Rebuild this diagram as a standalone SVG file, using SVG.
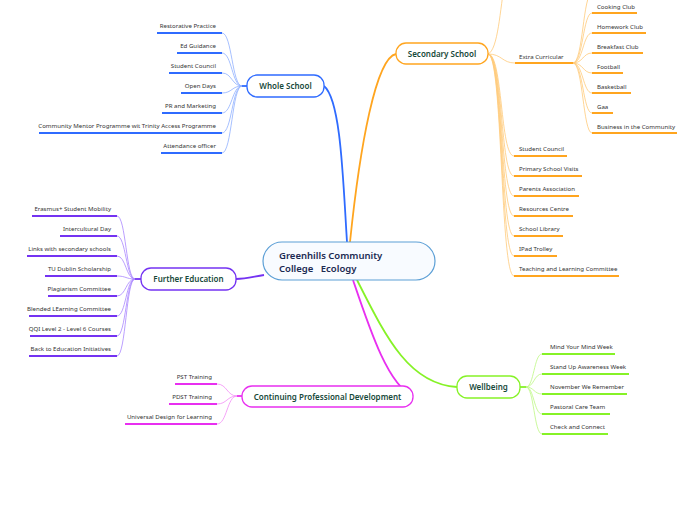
<svg xmlns="http://www.w3.org/2000/svg" width="696" height="520" viewBox="0 0 696 520">
<style>
text{font-family:"Noto Sans","Open Sans","Liberation Sans",sans-serif}
.leaf{font-size:6.1px;fill:#333}
.l{text-anchor:end}
.lbl{font-size:8px;font-weight:600;fill:#17493a;text-anchor:middle}
.ctr{font-size:9.5px;font-weight:600;fill:#1b2a52}
.c{fill:none;stroke-width:0.8}
.u{fill:none;stroke-width:2}
.m{fill:none;stroke-width:1.8}
.node{fill:#fff;stroke-width:1.3}
.blue .c{stroke:#8fb0ff}.blue .u,.blue .m{stroke:#2f6bff}
.orange .c{stroke:#ffca7a}.orange .u,.orange .m{stroke:#ffa51f}
.purple .c{stroke:#a987ff}.purple .u,.purple .m{stroke:#7433f2}
.magenta .c{stroke:#f28df6}.magenta .u,.magenta .m{stroke:#e82ff0}
.green .c{stroke:#bdf783}.green .u,.green .m{stroke:#86f227}
</style>

<g id="connectors">
  <g class="blue">
    <path class="m" d="M347,242 C343,180 341,100 324,86"/>
    <path class="m" d="M242,86 L247,86"/>
    <path class="c" d="M242,86 C232,86 232,33 222,33"/>
    <path class="c" d="M242,86 C232,86 232,53 222,53"/>
    <path class="c" d="M242,86 C232,86 232,73 222,73"/>
    <path class="c" d="M242,86 C232,86 232,93 222,93"/>
    <path class="c" d="M242,86 C232,86 232,113 222,113"/>
    <path class="c" d="M242,86 C232,86 232,133 222,133"/>
    <path class="c" d="M242,86 C232,86 232,153 222,153"/>
  </g>
  <g class="orange">
    <path class="m" d="M350,242 C360,145 376,58 396,54"/>
    <path class="c" d="M488,54 C498,50 500,10 505,-20"/>
    <path class="c" d="M488,54 C502,54 502,63 515,63"/>
    <path class="c" d="M573,63 C583,63 583,-7 592,-7"/>
    <path class="c" d="M573,63 C583,63 583,13 592,13"/>
    <path class="c" d="M573,63 C583,63 583,33 592,33"/>
    <path class="c" d="M573,63 C583,63 583,53 592,53"/>
    <path class="c" d="M573,63 C583,63 583,73 592,73"/>
    <path class="c" d="M573,63 C583,63 583,93 592,93"/>
    <path class="c" d="M573,63 C583,63 583,113 592,113"/>
    <path class="c" d="M573,63 C583,63 583,133 592,133"/>
    <path class="c" d="M488,54 C503,54 500,156 514,156"/>
    <path class="c" d="M488,54 C503,54 500,176 514,176"/>
    <path class="c" d="M488,54 C503,54 500,196 514,196"/>
    <path class="c" d="M488,54 C503,54 500,216 514,216"/>
    <path class="c" d="M488,54 C503,54 500,236 514,236"/>
    <path class="c" d="M488,54 C503,54 500,256 514,256"/>
    <path class="c" d="M488,54 C503,54 500,276 514,276"/>
  </g>
  <g class="purple">
    <path class="m" d="M264,275 C252,277 246,279 236,279"/>
    <path class="m" d="M135,279 L141,279"/>
    <path class="c" d="M135,279 C126,279 126,216 117,216"/>
    <path class="c" d="M135,279 C126,279 126,236 117,236"/>
    <path class="c" d="M135,279 C126,279 126,256 117,256"/>
    <path class="c" d="M135,279 C126,279 126,276 117,276"/>
    <path class="c" d="M135,279 C126,279 126,296 117,296"/>
    <path class="c" d="M135,279 C126,279 126,316 117,316"/>
    <path class="c" d="M135,279 C126,279 126,336 117,336"/>
    <path class="c" d="M135,279 C126,279 126,356 117,356"/>
  </g>
  <g class="magenta">
    <path class="m" d="M353,280 C370,330 388,385 413,396"/>
    <path class="m" d="M237,396 L242,396"/>
    <path class="c" d="M237,396 C227,396 227,384 217,384"/>
    <path class="c" d="M237,396 C227,396 227,404 217,404"/>
    <path class="c" d="M237,396 C227,396 227,424 217,424"/>
  </g>
  <g class="green">
    <path class="m" d="M357,280 C385,335 408,384 457,387"/>
    <path class="m" d="M520,387 L526,387"/>
    <path class="c" d="M526,387 C534,387 534,354 542,354"/>
    <path class="c" d="M526,387 C534,387 534,374 542,374"/>
    <path class="c" d="M526,387 C534,387 534,394 542,394"/>
    <path class="c" d="M526,387 C534,387 534,414 542,414"/>
    <path class="c" d="M526,387 C534,387 534,434 542,434"/>
  </g>
</g>

<g id="central">
  <rect x="263" y="242" width="172" height="38" rx="19" fill="#f8fbff" stroke="#5c9fd6" stroke-width="1.2"/>
  <text class="ctr" x="279" y="258.5">Greenhills Community</text>
  <text class="ctr" x="279" y="271.5" xml:space="preserve" style="white-space:pre">College   Ecology</text>
</g>

<g id="whole-school" class="blue">
  <rect class="node" x="247" y="75" width="77" height="22" rx="10" stroke="#2f6bff"/>
  <text class="lbl" x="285.5" y="89">Whole School</text>
</g>
<g id="ws-leaves" class="blue">
  <path class="u" d="M157,33H222M177,53H222M169,73H222M181,93H222M162,113H222M39,133H222M161,153H222"/>
  <text class="leaf l" x="216" y="27.5">Restorative Practice</text>
  <text class="leaf l" x="216" y="47.5">Ed Guidance</text>
  <text class="leaf l" x="216" y="67.5">Student Council</text>
  <text class="leaf l" x="216" y="87.5">Open Days</text>
  <text class="leaf l" x="216" y="107.5">PR and Marketing</text>
  <text class="leaf l" x="216" y="127.5">Community Mentor Programme wit Trinity Access Programme</text>
  <text class="leaf l" x="216" y="147.5">Attendance officer</text>
</g>

<g id="secondary-school" class="orange">
  <rect class="node" x="396" y="43" width="92" height="21" rx="10" stroke="#ffa51f"/>
  <text class="lbl" x="442" y="57">Secondary School</text>
</g>
<g id="extra-curricular" class="orange">
  <path class="u" d="M515,63H573"/>
  <text class="leaf" x="519" y="58.5">Extra Curricular</text>
</g>
<g id="ec-leaves" class="orange">
  <path class="u" d="M592,13H637M592,33H646M592,53H643M592,73H623M592,93H631M592,113H613M592,133H677"/>
  <text class="leaf" x="597" y="8.5">Cooking Club</text>
  <text class="leaf" x="597" y="28.5">Homework Club</text>
  <text class="leaf" x="597" y="48.5">Breakfast Club</text>
  <text class="leaf" x="597" y="68.5">Football</text>
  <text class="leaf" x="597" y="88.5">Basketball</text>
  <text class="leaf" x="597" y="108.5">Gaa</text>
  <text class="leaf" x="597" y="128.5">Business in the Community</text>
</g>
<g id="ss-leaves" class="orange">
  <path class="u" d="M514,156H567M514,176H582M514,196H579M514,216H573M514,236H563M514,256H557M514,276H619"/>
  <text class="leaf" x="519" y="150.5">Student Council</text>
  <text class="leaf" x="519" y="170.5">Primary School Visits</text>
  <text class="leaf" x="519" y="190.5">Parents Association</text>
  <text class="leaf" x="519" y="210.5">Resources Centre</text>
  <text class="leaf" x="519" y="230.5">School Library</text>
  <text class="leaf" x="519" y="250.5">IPad Trolley</text>
  <text class="leaf" x="519" y="270.5">Teaching and Learning Committee</text>
</g>

<g id="further-education" class="purple">
  <rect class="node" x="141" y="268" width="95" height="22" rx="10" stroke="#7433f2"/>
  <text class="lbl" x="188.5" y="282">Further Education</text>
</g>
<g id="fe-leaves" class="purple">
  <path class="u" d="M32,216H117M60,236H117M27,256H117M45,276H117M48,296H117M29,316H117M30,336H117M29,356H117"/>
  <text class="leaf l" x="111" y="210.5">Erasmus+ Student Mobility</text>
  <text class="leaf l" x="111" y="230.5">Intercultural Day</text>
  <text class="leaf l" x="111" y="250.5">Links with secondary schools</text>
  <text class="leaf l" x="111" y="270.5">TU Dublin Scholarship</text>
  <text class="leaf l" x="111" y="290.5">Plagiarism Committee</text>
  <text class="leaf l" x="111" y="310.5">Blended LEarning Committee</text>
  <text class="leaf l" x="111" y="330.5">QQI Level 2 - Level 6 Courses</text>
  <text class="leaf l" x="111" y="350.5">Back to Education Initiatives</text>
</g>

<g id="cpd" class="magenta">
  <rect class="node" x="242" y="386" width="171" height="21" rx="10" stroke="#e82ff0"/>
  <text class="lbl" x="327.5" y="399.5">Continuing Professional Development</text>
</g>
<g id="cpd-leaves" class="magenta">
  <path class="u" d="M175,384H217M169,404H217M125,424H217"/>
  <text class="leaf l" x="212" y="378.5">PST Training</text>
  <text class="leaf l" x="212" y="398.5">PDST Training</text>
  <text class="leaf l" x="212" y="418.5">Universal Design for Learning</text>
</g>

<g id="wellbeing" class="green">
  <rect class="node" x="457" y="376" width="63" height="22" rx="10" stroke="#86f227"/>
  <text class="lbl" x="488.5" y="390">Wellbeing</text>
</g>
<g id="wb-leaves" class="green">
  <path class="u" d="M542,354H615M542,374H629M542,394H627M542,414H610M542,434H608"/>
  <text class="leaf" x="550" y="348.5">Mind Your Mind Week</text>
  <text class="leaf" x="550" y="368.5">Stand Up Awareness Week</text>
  <text class="leaf" x="550" y="388.5">November We Remember</text>
  <text class="leaf" x="550" y="408.5">Pastoral Care Team</text>
  <text class="leaf" x="550" y="428.5">Check and Connect</text>
</g>
</svg>
